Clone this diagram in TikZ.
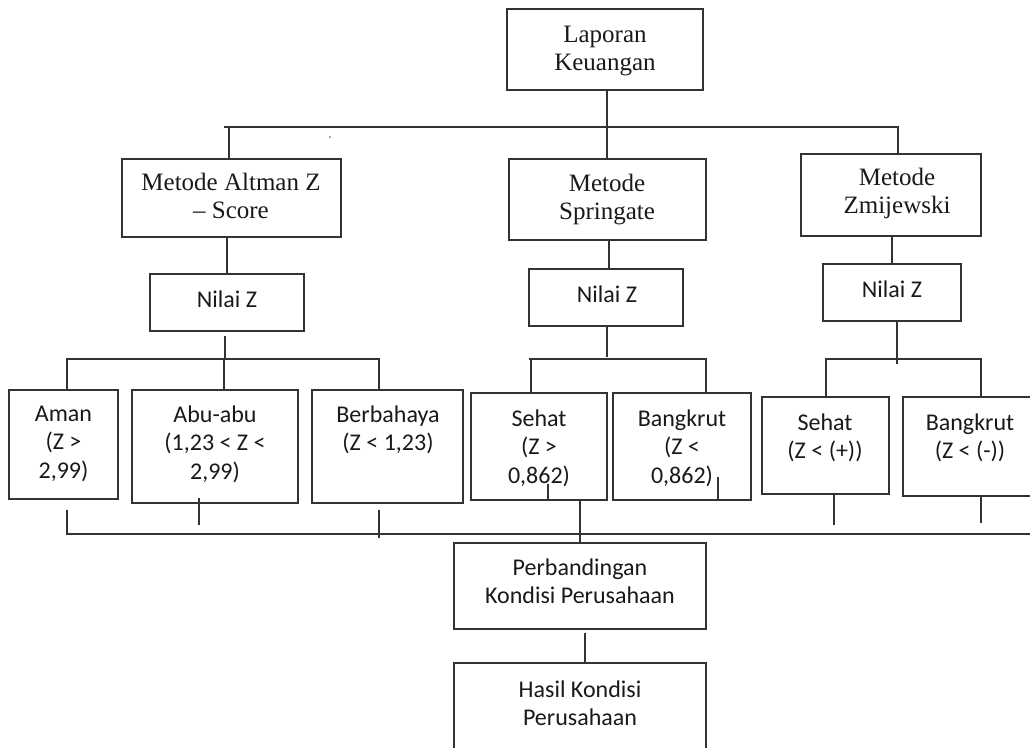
\documentclass[tikz,border=0pt]{standalone}
\usepackage{fontspec}
\setmainfont{Liberation Serif}
\newfontfamily\calfont{Carlito}
\begin{document}
\begin{tikzpicture}[x=1pt,y=-1pt,
  box/.style={draw=black!80, line width=1.3pt, rectangle, inner sep=0pt},
  tnr/.style={font=\fontsize{25}{28}\selectfont, align=center, inner sep=0pt, anchor=north, text=black!90},
  cal/.style={font=\calfont\fontsize{24}{28.5}\selectfont, align=center, inner sep=0pt, anchor=north, text=black!90},
  conn/.style={draw=black!80, line width=1.3pt}]
\useasboundingbox (0,0) rectangle (1030,747);
\clip (0,0) rectangle (1030,747);
% boxes
\node[box, minimum width=196pt, minimum height=81pt] (lap) at (605,49.5) {};
\node[box, minimum width=219pt, minimum height=78pt] (alt) at (231.5,198) {};
\node[box, minimum width=197pt, minimum height=81pt] (spr) at (607.5,199.5) {};
\node[box, minimum width=180pt, minimum height=82pt] (zmi) at (891,195) {};
\node[box, minimum width=154pt, minimum height=57pt] (nz1) at (227,302.5) {};
\node[box, minimum width=154pt, minimum height=57pt] (nz2) at (606,297.5) {};
\node[box, minimum width=138pt, minimum height=57pt] (nz3) at (892,292.5) {};
\node[box, minimum width=109pt, minimum height=109pt] (aman) at (63.5,444.5) {};
\node[box, minimum width=166pt, minimum height=113pt] (abu) at (215,446.5) {};
\node[box, minimum width=151pt, minimum height=113pt] (berb) at (387.5,446.5) {};
\node[box, minimum width=136pt, minimum height=107pt] (seh1) at (539,446.5) {};
\node[box, minimum width=138pt, minimum height=107pt] (bang1) at (682,446.5) {};
\node[box, minimum width=127pt, minimum height=97pt] (seh2) at (825.5,445.5) {};
\node[box, minimum width=134pt, minimum height=99pt] (bang2) at (970,446.5) {};
\node[box, minimum width=252pt, minimum height=86pt] (perb) at (580,586) {};
\node[box, minimum width=252pt, minimum height=97pt] (hasil) at (580,711.5) {};
% texts
\node[tnr] (tlap) at (605,22.4) {\strut Laporan\\\strut Keuangan};
\node[tnr] (talt) at (231,170.4) {\strut Metode Altman Z\\\strut – Score};
\node[tnr] (tspr) at (607,171.4) {\strut Metode\\\strut Springate};
\node[tnr] (tzmi) at (897,165.4) {\strut Metode\\\strut Zmijewski};
\node[cal] (tnz1) at (227,287) {\strut Nilai Z};
\node[cal] (tnz2) at (607,282) {\strut Nilai Z};
\node[cal] (tnz3) at (892,277) {\strut Nilai Z};
\node[cal] (taman) at (63.5,401) {\strut Aman\\\strut (Z >\\\strut 2,99)};
\node[cal] (tabu) at (215,402) {\strut Abu-abu\\\strut (1,23 < Z <\\\strut 2,99)};
\node[cal] (tberb) at (388,402) {\strut Berbahaya\\\strut (Z < 1,23)};
\node[cal] (tseh1) at (539,406) {\strut Sehat\\\strut (Z >\\\strut 0,862)};
\node[cal] (tbang1) at (682,406) {\strut Bangkrut\\\strut (Z <\\\strut 0,862)};
\node[cal] (tseh2) at (825,410) {\strut Sehat\\\strut (Z < (+))};
\node[cal] (tbang2) at (970,410) {\strut Bangkrut\\\strut (Z < (-))};
\node[cal] (tperb) at (580,555) {\strut Perbandingan\\\strut Kondisi Perusahaan};
\node[cal] (thasil) at (580,677) {\strut Hasil Kondisi\\\strut Perusahaan};
% top level connectors
\coordinate (b1L) at (224,127);
\coordinate (b1R) at (898,127);
\draw[conn] ([xshift=2pt]lap.south) -- ++(0,37);
\draw[conn] (b1L) -- (b1R);
\draw[conn] ([xshift=-2.5pt]alt.north) -- ++(0,-32);
\draw[conn] ([xshift=-0.5pt]spr.north) -- ++(0,-32);
\draw[conn] ([xshift=7pt]zmi.north) -- ++(0,-27);
\fill[black!70] (330,137) circle (0.9pt);
% method to Nilai Z
\draw[conn] (nz1.north) -- ++(0,-37);
\draw[conn] ([xshift=3pt]nz2.north) -- ++(0,-29);
\draw[conn] (nz3.north) -- ++(0,-28);
% Nilai Z 1 branch
\coordinate (b2L) at (67,359);
\coordinate (b2R) at (379,359);
\draw[conn] ([xshift=-2pt,yshift=-4pt]nz1.south) -- ++(0,24);
\draw[conn] (b2L) -- (b2R);
\draw[conn] ([xshift=3.5pt]aman.north) -- ++(0,-31);
\draw[conn] ([xshift=9pt]abu.north) -- ++(0,-31);
\draw[conn] ([xshift=-8.5pt]berb.north) -- ++(0,-31);
% Nilai Z 2 branch
\coordinate (b3L) at (529,359);
\coordinate (b3R) at (706,359);
\draw[conn] ([xshift=1pt]nz2.south) -- ++(0,30);
\draw[conn] (b3L) -- (b3R);
\draw[conn] ([xshift=-8pt]seh1.north) -- ++(0,-34);
\draw[conn] ([xshift=24pt]bang1.north) -- ++(0,-34);
% Nilai Z 3 branch
\coordinate (b4L) at (826,359);
\coordinate (b4R) at (981,359);
\draw[conn] ([xshift=5pt]nz3.south) -- ++(0,42);
\draw[conn] (b4L) -- (b4R);
\draw[conn] ([xshift=0.5pt]seh2.north) -- ++(0,-38);
\draw[conn] ([xshift=11pt]bang2.north) -- ++(0,-38);
% bottom collector
\coordinate (b5L) at (67,534);
\coordinate (b5R) at (1032,534);
\draw[conn] (b5L) -- (b5R);
\draw[conn] ([xshift=3.5pt,yshift=-10pt]aman.south) -- ++(0,25);
\draw[conn] ([xshift=-16pt,yshift=6pt]abu.south) -- ++(0,27);
\draw[conn] ([xshift=-8.5pt,yshift=-6pt]berb.south) -- ++(0,28);
\draw[conn] ([xshift=9pt,yshift=17pt]seh1.south) -- ++(0,17);
\draw[conn] ([xshift=36pt,yshift=24pt]bang1.south) -- ++(0,24);
\draw[conn] ([xshift=41pt]seh1.south) -- (perb.north);
\draw[conn] ([xshift=8.5pt]seh2.south) -- ++(0,30);
\draw[conn] ([xshift=11pt]bang2.south) -- ++(0,26);
% final
\draw[conn] ([xshift=5pt,yshift=-3pt]perb.south) -- ([xshift=5pt]hasil.north);
\end{tikzpicture}
\end{document}
